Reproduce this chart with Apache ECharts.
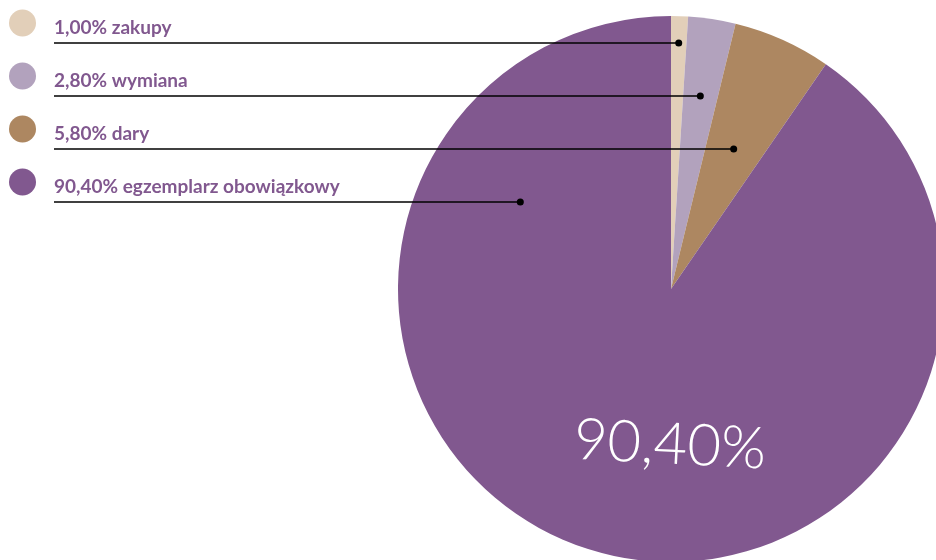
<!DOCTYPE html>
<html>
<head>
<meta charset="utf-8">
<script src="https://cdn.jsdelivr.net/npm/echarts@6/dist/echarts.min.js"></script>
<style>
  html, body { margin: 0; padding: 0; background: #fff; }
  #chart { width: 936px; height: 560px; }
</style>
</head>
<body>
<div id="chart"></div>
<script>
const categories = ['zakupy', 'wymiana', 'dary', 'egzemplarz obowiązkowy']
const shares = [1.0, 2.8, 5.8, 90.4]
const colors = ['#e2cfb9', '#b2a2bd', '#ad8761', '#81588f']

const cx = 671, cy = 289, R = 273
const rowY = [43, 96, 149, 202]   // leader line rows

const fmt = v => v.toFixed(2).replace('.', ',') + '%'

// where each leader line ends: on the slice mid-angle, except the big slice
let acc = 0
const anchors = shares.map((v, i) => {
	const start = acc * 3.6
	acc += v
	const end = acc * 3.6
	let deg = (start + end) / 2
	if (deg > 90) deg = 300 // big slice: point up-left of centre
	const y = rowY[i]
	const x = cx + (cy - y) * Math.tan(deg * Math.PI / 180)
	return [x, y]
})

const chart = echarts.init(document.getElementById('chart'))

const option = {
	animation: false,
	series: [
		{
			// the slices
			type: 'pie',
			z: 1,
			center: [cx, cy],
			radius: R,
			startAngle: 90,
			clockwise: true,
			silent: true,
			itemStyle: { borderWidth: 0 },
			label: { show: false },
			labelLine: { show: false },
			data: categories.map((c, i) => ({
				name: c,
				value: shares[i],
				itemStyle: { color: colors[i] },
			})),
		},
		{
			// same pie, see-through, only for labels + leader lines on top
			type: 'pie',
			z: 5,
			center: [cx, cy],
			radius: R,
			startAngle: 90,
			clockwise: true,
			silent: true,
			itemStyle: { color: 'rgba(0,0,0,0)', borderWidth: 0 },
			label: {
				show: true,
				position: 'outside',
				overflow: 'none',
				formatter: p => '{d' + p.dataIndex + '|}{t|' + fmt(p.value) + ' ' + p.name + '}',
				rich: Object.assign({
					t: {
						fontFamily: 'Lato',
						fontWeight: 'bold',
						fontSize: 19,
						color: '#81588f',
						padding: [10, 0, 0, 18],
					},
				}, ...colors.map((c, i) => ({
					['d' + i]: { width: 27, height: 27, borderRadius: 14, backgroundColor: c },
				}))),
			},
			labelLine: {
				show: true,
				lineStyle: { color: '#000', width: 1.4 },
			},
			labelLayout: p => {
				const i = p.dataIndex
				const a = anchors[i]
				return {
					x: 9,
					y: rowY[i] - 20,
					align: 'left',
					verticalAlign: 'middle',
					labelLinePoints: [[a[0], a[1]], [a[0], a[1]], [54, rowY[i]]],
				}
			},
			data: categories.map((c, i) => ({ name: c, value: shares[i] })),
		},
	],
	graphic: [
		...anchors.map(a => ({
			type: 'circle',
			shape: { cx: a[0], cy: a[1], r: 3.5 },
			style: { fill: '#000' },
			z: 100,
		})),
		{
			type: 'text',
			x: 670,
			y: 445,
			rotation: -0.05,
			style: {
				text: fmt(shares[3]),
				fontFamily: 'Lato',
				fontWeight: 300,
				fontSize: 58,
				fill: '#fff',
				align: 'center',
				verticalAlign: 'middle',
			},
			z: 100,
		},
	],
}

chart.setOption(option)
</script>
</body>
</html>
